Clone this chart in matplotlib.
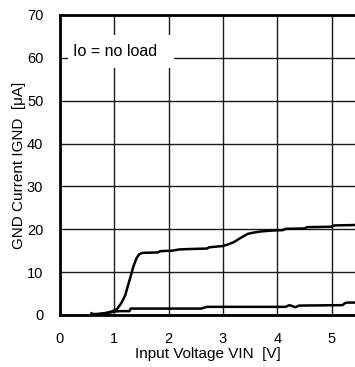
import numpy as np
import matplotlib
matplotlib.use("Agg")
from matplotlib import pyplot as plt
from matplotlib.patches import Rectangle

plt.rcParams['font.family'] = ['Liberation Sans', 'DejaVu Sans']

# upper curve
vin_a = [0.58, 0.62, 0.75, 0.85, 0.95, 1.05, 1.13, 1.20, 1.25, 1.30, 1.35, 1.41, 1.46, 1.52,
         1.80, 1.85, 2.05, 2.20, 2.40, 2.70, 2.75, 3.00, 3.10, 3.20, 3.30, 3.45, 3.55,
         3.70, 3.90, 4.10, 4.15, 4.50, 4.55, 5.00, 5.05, 5.45]
ignd_a = [0.4, 0.2, 0.3, 0.5, 0.8, 1.4, 2.8, 4.6, 6.8, 9.0, 11.3, 13.3, 14.2, 14.5,
          14.6, 14.9, 15.0, 15.3, 15.4, 15.5, 15.8, 16.1, 16.5, 17.0, 17.8, 18.9, 19.2,
          19.5, 19.7, 19.8, 20.1, 20.2, 20.5, 20.6, 20.9, 21.0]

# lower curve
vin_b = [0.70, 0.80, 0.90, 1.00, 1.10, 1.28, 1.30, 2.60, 2.70, 4.15, 4.22, 4.27, 4.33,
         4.40, 5.20, 5.25, 5.30, 5.45]
ignd_b = [0.2, 0.3, 0.5, 0.8, 0.9, 0.9, 1.5, 1.5, 1.9, 1.9, 2.3, 2.1, 1.8,
          2.2, 2.3, 2.8, 2.9, 2.9]

fig = plt.figure(figsize=(3.55, 3.67), dpi=100)
ax = fig.add_axes([60 / 355, 52 / 367, 295 / 355, 300 / 367])
ax.set_axisbelow(True)

ax.plot(vin_a, ignd_a, color='black', lw=1.8, zorder=3)
ax.plot(vin_b, ignd_b, color='black', lw=1.8, zorder=3)

ax.set_xlim(0, 5.43)
ax.set_ylim(0, 70)
ax.set_xticks(range(0, 6))
ax.set_yticks(range(0, 71, 10))
ax.grid(True, color='#1a1a1a', lw=1.0)
ax.tick_params(length=0, labelsize=10.5, pad=12)
ax.spines['right'].set_visible(False)
for s in ['left', 'bottom', 'top']:
    ax.spines[s].set_linewidth(2)

ax.set_xlabel('Input Voltage VIN  [V]', fontsize=11, labelpad=1)
ax.set_ylabel('GND Current IGND  [\u03bcA]', fontsize=11, labelpad=1)

# white label box hiding the grid
ax.add_patch(Rectangle((0.15, 57.6), 1.95, 7.7, facecolor='white', edgecolor='none', zorder=2))
ax.text(0.24, 61.4, 'Io = no load', fontsize=11.5, va='center', ha='left', zorder=4)

fig.savefig('out.png', dpi=100)
